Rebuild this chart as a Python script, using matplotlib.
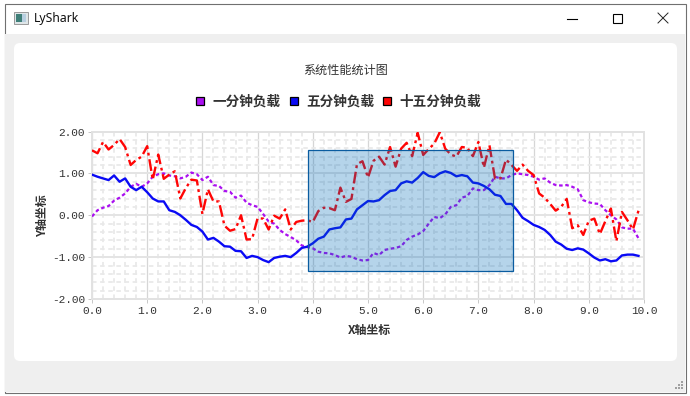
import numpy as np
import matplotlib
matplotlib.use('Agg')
import matplotlib.pyplot as plt
from matplotlib.lines import Line2D
from matplotlib.patches import FancyBboxPatch, Rectangle
from matplotlib.ticker import FormatStrFormatter, MultipleLocator

plt.rcParams['font.family'] = ['Noto Sans CJK SC', 'DejaVu Sans']
plt.rcParams['axes.unicode_minus'] = False

# 数据
one_min = [-0.03, 0.12, 0.18, 0.22, 0.35, 0.42, 0.52, 0.68, 0.75, 0.68,
           0.76, 0.92, 0.98, 1.00, 0.95, 0.93, 0.88, 0.92, 1.02, 0.98,
           0.84, 0.92, 0.72, 0.70, 0.58, 0.56, 0.42, 0.47, 0.30, 0.24,
           0.20, 0.03, -0.15, -0.20, -0.35, -0.45, -0.52, -0.60, -0.72, -0.76,
           -0.79, -0.87, -0.90, -0.91, -0.95, -1.01, -0.97, -0.99, -1.05, -1.08,
           -1.07, -0.90, -0.95, -0.83, -0.80, -0.78, -0.74, -0.59, -0.51, -0.46,
           -0.38, -0.20, -0.04, -0.07, 0.02, 0.20, 0.24, 0.42, 0.46, 0.64,
           0.60, 0.60, 0.72, 0.92, 0.88, 0.88, 0.96, 1.00, 0.98, 0.96,
           0.92, 0.85, 0.88, 0.78, 0.72, 0.71, 0.72, 0.68, 0.62, 0.36,
           0.31, 0.28, 0.27, 0.12, 0.00, -0.10, -0.29, -0.32, -0.32, -0.55]
five_min = [0.97, 0.92, 0.88, 0.84, 0.95, 0.80, 0.88, 0.68, 0.60, 0.68,
            0.55, 0.40, 0.33, 0.33, 0.12, 0.08, 0.00, -0.11, -0.23, -0.28,
            -0.39, -0.58, -0.54, -0.63, -0.74, -0.75, -0.85, -0.86, -1.02, -0.97,
            -1.00, -1.07, -1.12, -1.02, -0.99, -0.97, -1.00, -0.90, -0.78, -0.75,
            -0.67, -0.56, -0.51, -0.34, -0.31, -0.29, -0.10, -0.08, 0.14, 0.24,
            0.34, 0.33, 0.36, 0.48, 0.58, 0.60, 0.76, 0.81, 0.78, 0.89,
            1.03, 0.94, 0.91, 1.00, 1.05, 1.01, 0.93, 0.96, 0.93, 0.78,
            0.76, 0.70, 0.62, 0.49, 0.46, 0.27, 0.27, 0.12, -0.06, -0.14,
            -0.23, -0.28, -0.35, -0.47, -0.63, -0.70, -0.80, -0.83, -0.79, -0.82,
            -0.91, -1.01, -1.08, -1.05, -1.10, -1.08, -0.96, -0.94, -0.94, -0.97]
fifteen_min = [1.55, 1.48, 1.75, 1.57, 1.68, 1.82, 1.63, 1.20, 1.32, 1.40,
               1.65, 0.85, 1.45, 0.87, 0.97, 1.05, 0.40, 0.65, 0.85, 0.83,
               0.03, 0.62, 0.33, 0.33, -0.25, -0.37, -0.33, 0.00, -0.58, -0.57,
               -0.07, -0.08, -0.34, -0.01, -0.08, 0.14, -0.34, -0.16, -0.13, -0.12,
               -0.16, 0.10, 0.18, 0.17, 0.12, 0.66, 0.32, 0.39, 1.22, 1.29,
               0.90, 1.30, 1.40, 1.21, 1.63, 1.16, 1.59, 1.73, 1.41, 1.97,
               1.44, 1.58, 1.71, 1.98, 1.59, 1.45, 1.40, 1.63, 1.61, 1.41,
               1.75, 1.14, 1.67, 0.88, 0.88, 1.33, 1.20, 1.06, 1.21, 1.06,
               0.96, 0.52, 0.42, 0.27, 0.11, 0.20, 0.39, -0.31, -0.24, -0.47,
               -0.13, -0.08, -0.45, -0.14, 0.16, -0.62, 0.08, -0.12, -0.34, 0.11]
x_values = np.arange(100) * 0.1
series_names = ['一分钟负载', '五分钟负载', '十五分钟负载']
rect_x = [3.92, 7.63]
rect_y = [-1.34, 1.57]

W, H = 690, 396
fig = plt.figure(figsize=(W / 100, H / 100), dpi=100, facecolor='white')

# 窗口外框
bg = fig.add_axes([0, 0, 1, 1], zorder=0)
bg.set_xlim(0, W)
bg.set_ylim(H, 0)
bg.axis('off')
bg.add_patch(Rectangle((4.5, 3.5), 681, 389, fc='white', ec='#707070', lw=0.8))
bg.add_patch(Rectangle((5, 34), 680, 358, fc='#efefef', ec='none'))
bg.add_patch(FancyBboxPatch((18, 47), 655, 310, boxstyle='round,pad=4,rounding_size=6',
                            fc='white', ec='none'))
# 图标
bg.add_patch(Rectangle((13.5, 12), 14, 12, fc='#dfe6e8', ec='#9a9a9a', lw=0.7))
bg.add_patch(Rectangle((15.5, 14), 6, 8, fc='#3f7f78', ec='none'))
bg.add_patch(Rectangle((22, 14), 4, 8, fc='#b8cfe0', ec='none'))
bg.text(34, 18.5, 'LyShark', fontsize=8.8, family=['Noto Sans', 'DejaVu Sans'],
        color='#111111', ha='left', va='center')
# 窗口按钮
bg.plot([567, 577], [18.5, 18.5], color='black', lw=0.8)
bg.add_patch(Rectangle((612.5, 13.5), 9, 9, fc='none', ec='black', lw=0.8))
bg.plot([658, 668], [13, 23], color='#222222', lw=0.7)
bg.plot([658, 668], [23, 13], color='#222222', lw=0.7)
# 右下角
bg.scatter([682, 679, 682, 676, 679, 682], [382, 385, 385, 388, 388, 388],
           s=1.2, marker='s', color='#a0a0a0', linewidths=0)

# 绘图区
left, right, top, bottom = 92, 644, 131.5, 299
ax = fig.add_axes([left / W, 1 - bottom / H, (right - left) / W, (bottom - top) / H], zorder=1)
ax.patch.set_alpha(0)
ax.set_xlim(0, 10)
ax.set_ylim(-2, 2)
ax.xaxis.set_major_locator(MultipleLocator(1))
ax.xaxis.set_minor_locator(MultipleLocator(0.2))
ax.yaxis.set_major_locator(MultipleLocator(1))
ax.yaxis.set_minor_locator(MultipleLocator(0.2))
ax.xaxis.set_major_formatter(FormatStrFormatter('%.1f'))
ax.yaxis.set_major_formatter(FormatStrFormatter('%.2f'))
ax.set_axisbelow(True)
ax.grid(which='minor', color='#e9e9e9', lw=1.3, ls=(0, (2.5, 2)))
ax.grid(axis='x', which='major', color='#d6d6d6', lw=0.9)
ax.grid(axis='y', which='major', color='#e4e4e4', lw=1.4)
for s in ax.spines.values():
    s.set_color('#e2e2e2')
    s.set_linewidth(1.4)
ax.tick_params(which='major', length=3, width=0.7, color='#c8c8c8', labelsize=8,
               labelcolor='#333333', pad=2)
ax.tick_params(which='minor', length=0)
for lab in ax.get_xticklabels() + ax.get_yticklabels():
    lab.set_family(['Liberation Mono', 'DejaVu Sans'])

ax.plot(x_values, one_min, color='#aa10f0', lw=1.6, ls=(0, (1.6, 1.2)), zorder=3)
ax.plot(x_values, five_min, color='#0a0af5', lw=1.7, zorder=3)
ax.plot(x_values, fifteen_min, color='#ff0505', lw=1.7, ls=(0, (5, 1.6, 1.2, 1.6)), zorder=3)
ax.add_patch(Rectangle((rect_x[0], rect_y[0]), rect_x[1] - rect_x[0], rect_y[1] - rect_y[0],
                       fc=(0.0, 0.42, 0.72, 0.29), ec='#0a5ca0', lw=0.9, zorder=4))

fig.text(346 / W, 1 - 70 / H, '系统性能统计图', fontsize=8.7, color='#333333', ha='center', va='center')
ax.set_xlabel('X轴坐标', fontsize=8.6, fontweight='bold', color='#333333', labelpad=0)
ax.xaxis.set_label_coords((369 - left) / (right - left), (bottom - 330) / (bottom - top), )
ax.xaxis.label.set_va('center')
ax.set_ylabel('Y轴坐标', fontsize=8.6, fontweight='bold', color='#333333')
ax.yaxis.set_label_coords((43 - left) / (right - left), 0.5)
ax.yaxis.label.set_va('center')

handles = [Line2D([], [], ls='none', marker='s', ms=6.2, mfc=c, mec='black', mew=0.9)
           for c in ['#aa10f0', '#0a0af5', '#ff0505']]
ax.legend(handles, series_names, loc='center', ncol=3, frameon=False,
          bbox_to_anchor=((338 - left) / (right - left), (bottom - 102) / (bottom - top)),
          prop={'size': 9.8, 'weight': 'bold'}, labelcolor='#333333',
          handlelength=0.8, handletextpad=0.5, columnspacing=0.55, borderpad=0)

fig.savefig('out.png', dpi=100)
